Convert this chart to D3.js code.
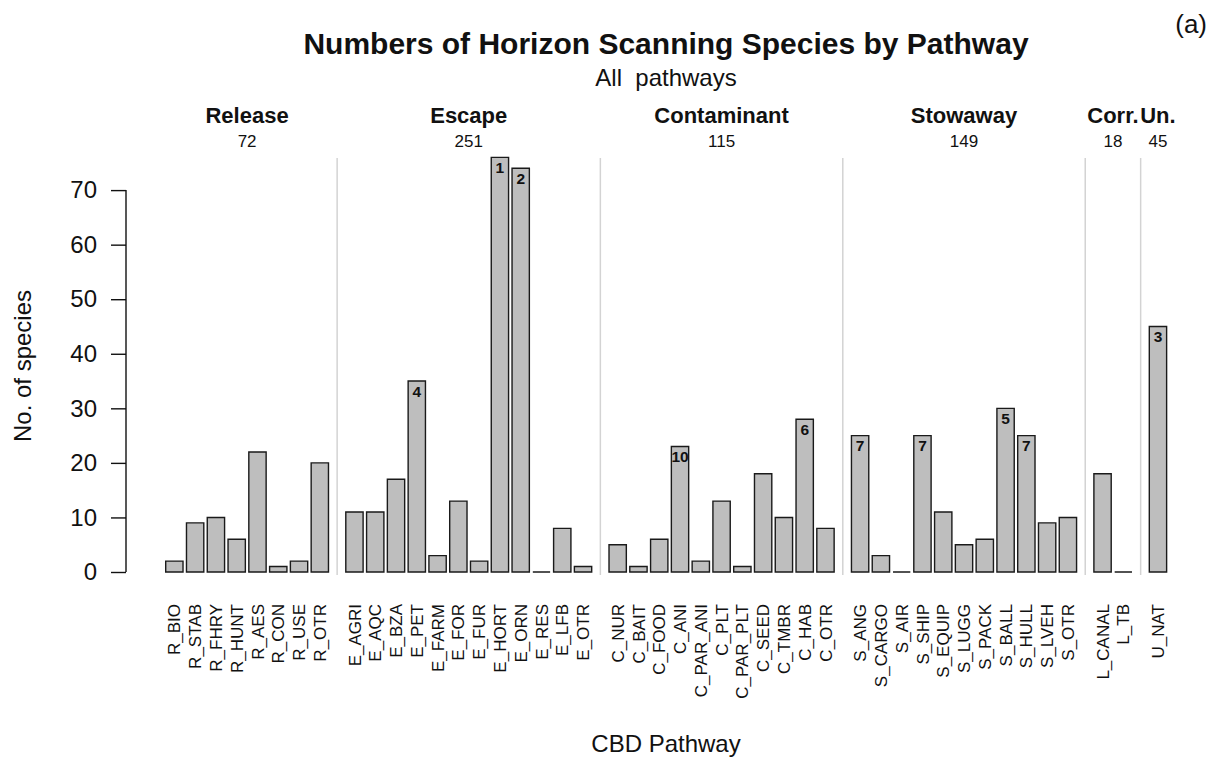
<!DOCTYPE html>
<html>
<head>
<meta charset="utf-8">
<script src="https://cdn.jsdelivr.net/npm/d3@7"></script>
<style>
  html, body { margin: 0; padding: 0; background: #fff; }
  svg { display: block; font-family: "Liberation Sans", Arial, sans-serif; }
</style>
</head>
<body>
<svg id="chart" width="1215" height="758"></svg>
<script>
// ---- Data ----
const groupNames = ["Release", "Escape", "Contaminant", "Stowaway", "Corr.", "Un."];

const categories = [
  "R_BIO","R_STAB","R_FHRY","R_HUNT","R_AES","R_CON","R_USE","R_OTR",
  "E_AGRI","E_AQC","E_BZA","E_PET","E_FARM","E_FOR","E_FUR","E_HORT","E_ORN","E_RES","E_LFB","E_OTR",
  "C_NUR","C_BAIT","C_FOOD","C_ANI","C_PAR_ANI","C_PLT","C_PAR_PLT","C_SEED","C_TMBR","C_HAB","C_OTR",
  "S_ANG","S_CARGO","S_AIR","S_SHIP","S_EQUIP","S_LUGG","S_PACK","S_BALL","S_HULL","S_LVEH","S_OTR",
  "L_CANAL","L_TB",
  "U_NAT"
];

const values = [
  2, 9, 10, 6, 22, 1, 2, 20,
  11, 11, 17, 35, 3, 13, 2, 76, 74, 0, 8, 1,
  5, 1, 6, 23, 2, 13, 1, 18, 10, 28, 8,
  25, 3, 0, 25, 11, 5, 6, 30, 25, 9, 10,
  18, 0,
  45
];

const groupOf = [
  "Release","Release","Release","Release","Release","Release","Release","Release",
  "Escape","Escape","Escape","Escape","Escape","Escape","Escape","Escape","Escape","Escape","Escape","Escape",
  "Contaminant","Contaminant","Contaminant","Contaminant","Contaminant","Contaminant","Contaminant","Contaminant","Contaminant","Contaminant","Contaminant",
  "Stowaway","Stowaway","Stowaway","Stowaway","Stowaway","Stowaway","Stowaway","Stowaway","Stowaway","Stowaway","Stowaway",
  "Corr.","Corr.",
  "Un."
];

const rankCats = ["E_HORT","E_ORN","U_NAT","E_PET","S_BALL","C_HAB","S_ANG","S_SHIP","S_HULL","C_ANI"];
const rankLabels = ["1","2","3","4","5","6","7","7","7","10"];

const yTicks = [0, 10, 20, 30, 40, 50, 60, 70];

// ---- Layout (R barplot style: bar width 1, space 0.2 within group, 1 between groups) ----
const svg = d3.select("#chart");
const font = '"Liberation Sans", Arial, sans-serif';

const starts = [];
let pos = 0;
categories.forEach((c, i) => {
  if (i > 0) pos += (groupOf[i] === groupOf[i - 1]) ? 0.2 : 1.0;
  starts.push(pos);
  pos += 1;
});
const totalUnits = pos;

const bw = 17.317;
const x = d3.scaleLinear().domain([0, totalUnits]).range([165.7, 165.7 + totalUnits * bw]);
const y = d3.scaleLinear().domain([0, 70]).range([572, 190.1]);

const bars = categories.map((c, i) => ({
  cat: c, val: values[i], group: groupOf[i], x0: starts[i], x1: starts[i] + 1
}));

// group separators
const groupInfo = groupNames.map(g => {
  const b = bars.filter(d => d.group === g);
  return { name: g, x0: b[0].x0, x1: b[b.length - 1].x1, total: d3.sum(b, d => d.val) };
});
for (let k = 0; k < groupInfo.length - 1; k++) {
  const mid = (groupInfo[k].x1 + groupInfo[k + 1].x0) / 2;
  svg.append("line")
    .attr("x1", x(mid)).attr("x2", x(mid))
    .attr("y1", 158).attr("y2", 575)
    .attr("stroke", "#d3d3d3").attr("stroke-width", 1.5);
}

// bars (path so zero-height bars still show their outline)
svg.append("g").selectAll("path").data(bars).enter().append("path")
  .attr("d", d => {
    const xa = x(d.x0), xb = x(d.x1), y0 = y(0), y1 = y(d.val);
    return `M${xa},${y0}H${xb}V${y1}H${xa}Z`;
  })
  .attr("fill", "#bebebe")
  .attr("stroke", "#1a1a1a")
  .attr("stroke-width", 1.4);

// rank labels
rankCats.forEach((c, k) => {
  const d = bars.find(b => b.cat === c);
  svg.append("text")
    .attr("x", x((d.x0 + d.x1) / 2))
    .attr("y", y(d.val) + 15.5)
    .attr("text-anchor", "middle")
    .attr("font-weight", "bold")
    .attr("font-size", 15.5)
    .attr("fill", "#111")
    .text(rankLabels[k]);
});

// y axis
const yAxis = d3.axisLeft(y).tickValues(yTicks).tickSize(15).tickPadding(14).tickSizeOuter(0);
const gy = svg.append("g").attr("transform", "translate(126,0)").call(yAxis);
gy.select(".domain").attr("stroke", "#111").attr("stroke-width", 1.4)
  .attr("d", `M0,${y(0)}V${y(70)}`);
gy.selectAll(".tick line").attr("stroke", "#111").attr("stroke-width", 1.4);
gy.selectAll(".tick text").attr("font-size", 24).attr("font-family", font).attr("fill", "#111");

// x tick labels (rotated)
svg.append("g").selectAll("text").data(bars).enter().append("text")
  .attr("transform", d => `translate(${x((d.x0 + d.x1) / 2)},604) rotate(-90)`)
  .attr("text-anchor", "end")
  .attr("dy", "0.36em")
  .attr("font-size", 17)
  .attr("fill", "#111")
  .text(d => d.cat);

// group headers
groupInfo.forEach(g => {
  const cx = x((g.x0 + g.x1) / 2);
  svg.append("text").attr("x", cx).attr("y", 123).attr("text-anchor", "middle")
    .attr("font-weight", "bold").attr("font-size", 22).attr("fill", "#111").text(g.name);
  svg.append("text").attr("x", cx).attr("y", 147).attr("text-anchor", "middle")
    .attr("font-size", 17).attr("fill", "#111").text(g.total);
});

// titles
svg.append("text").attr("x", 666).attr("y", 54).attr("text-anchor", "middle")
  .attr("font-weight", "bold").attr("font-size", 30).attr("fill", "#111")
  .text("Numbers of Horizon Scanning Species by Pathway");
svg.append("text").attr("x", 666).attr("y", 86).attr("text-anchor", "middle")
  .attr("font-size", 24).attr("fill", "#111").attr("xml:space", "preserve")
  .style("white-space", "pre")
  .text("All  pathways");
svg.append("text").attr("x", 1207).attr("y", 33).attr("text-anchor", "end")
  .attr("font-size", 26).attr("fill", "#111").text("(a)");

// axis titles
svg.append("text").attr("transform", "translate(31,366) rotate(-90)")
  .attr("text-anchor", "middle").attr("font-size", 24).attr("fill", "#111")
  .text("No. of species");
svg.append("text").attr("x", 666).attr("y", 752).attr("text-anchor", "middle")
  .attr("font-size", 24).attr("fill", "#111").text("CBD Pathway");
</script>
</body>
</html>
